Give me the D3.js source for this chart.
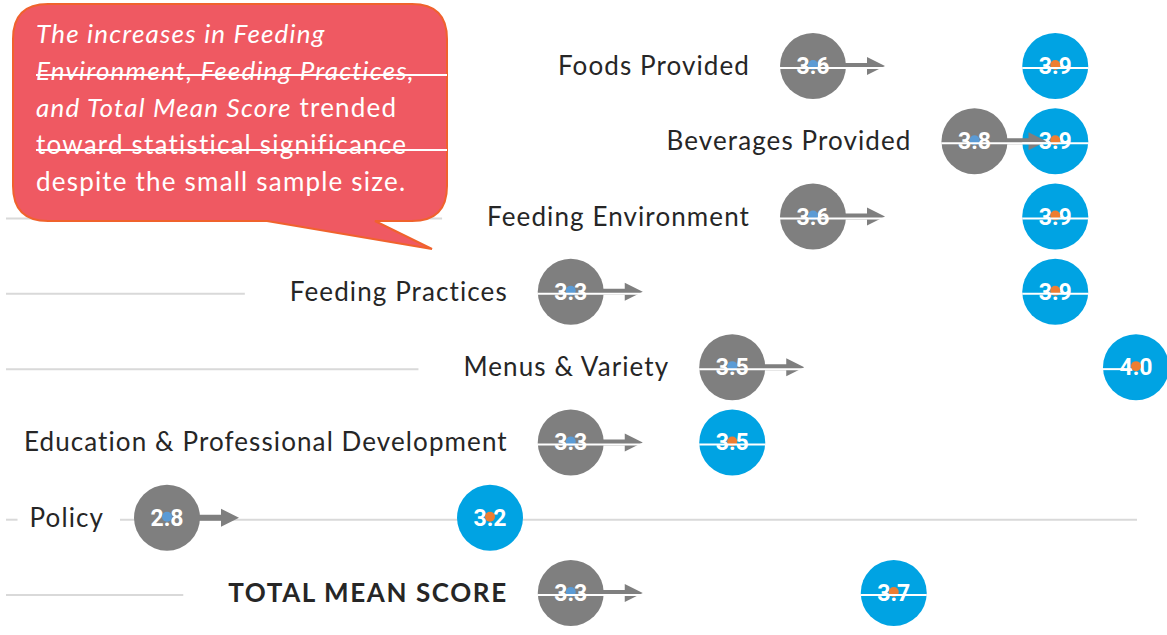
<!DOCTYPE html>
<html>
<head>
<meta charset="utf-8">
<script src="https://cdn.jsdelivr.net/npm/d3@7"></script>
<style>
  html, body { margin: 0; padding: 0; background: #fff; }
  svg { display: block; }
</style>
</head>
<body>
<svg id="chart"></svg>
<script>
// scores before / after, per area
const categories = ["Foods Provided", "Beverages Provided", "Feeding Environment", "Feeding Practices",
  "Menus & Variety", "Education & Professional Development", "Policy", "TOTAL MEAN SCORE"];
const before = [3.6, 3.8, 3.6, 3.3, 3.5, 3.3, 2.8, 3.3];
const after = [3.9, 3.9, 3.9, 3.9, 4.0, 3.5, 3.2, 3.7];

const calloutLines = [
  [["The increases in Feeding", true]],
  [["Environment, Feeding Practices,", true]],
  [["and Total Mean Score", true], [" trended", false]],
  [["toward statistical significance", false]],
  [["despite the small sample size.", false]]
];

const width = 1167, height = 635;
const r = 33, gap = 30, arrowLen = 39;
const font = "Lato, 'Open Sans', sans-serif";

const rows = categories.map((c, i) => ({ cat: c, b: before[i], a: after[i] }));

const svg = d3.select('#chart')
    .attr('width', width)
    .attr('height', height);

const x = d3.scaleLinear().domain([2.8, 4.0]).range([167, 1136]);
const y = d3.scalePoint().domain(categories).range([66, 593]);
const plotRight = 1137;
const bx0 = 13, bx1 = 447, by0 = 4, by1 = 221, cr = 35;

const gGrid = svg.append('g');
const gMarks = svg.append('g');
const gLabels = svg.append('g');

const labels = gLabels.selectAll('text')
    .data(rows)
    .enter()
    .append('text')
    .attr('x', d => x(d.b) - r - gap)
    .attr('y', d => y(d.cat) + 9)
    .attr('text-anchor', 'end')
    .attr('font-family', font)
    .attr('font-size', 26)
    .attr('letter-spacing', d => d.cat === "TOTAL MEAN SCORE" ? 1.6 : 1.1)
    .attr('font-weight', d => d.cat === "TOTAL MEAN SCORE" ? 'bold' : 'normal')
    .attr('fill', '#262626')
    .text(d => d.cat);

// light gray gridlines to the left of each label
const grid = (x1, x2, yy) => gGrid.append('line')
    .attr('x1', x1).attr('x2', x2)
    .attr('y1', yy).attr('y2', yy)
    .attr('stroke', '#d9d9d9').attr('stroke-width', 2);

labels.each(function(d) {
    const w = this.getComputedTextLength();
    const start = x(d.b) - r - gap - w;
    const yy = y(d.cat) + 2;
    if (d.cat === "Policy") {
        grid(6, start - 12, yy);
        grid(x(d.b) - r - 14, plotRight, yy);
    } else if (yy > by1 - 10) {
        const end = start - 45;
        if (end > 20) grid(6, end, yy);
    }
});

// circles
gMarks.selectAll('circle.before')
    .data(rows)
    .enter()
    .append('circle')
    .attr('class', 'before')
    .attr('cx', d => x(d.b))
    .attr('cy', d => y(d.cat))
    .attr('r', r)
    .attr('fill', '#7f7f7f');

gMarks.selectAll('circle.after')
    .data(rows)
    .enter()
    .append('circle')
    .attr('class', 'after')
    .attr('cx', d => x(d.a))
    .attr('cy', d => y(d.cat))
    .attr('r', r)
    .attr('fill', '#00a3e3');

// value texts
const valueText = (cls, acc) => gMarks.selectAll('text.' + cls)
    .data(rows)
    .enter()
    .append('text')
    .attr('class', cls)
    .attr('x', d => x(acc(d)))
    .attr('y', d => y(d.cat) + 8)
    .attr('text-anchor', 'middle')
    .attr('font-family', "Roboto, sans-serif")
    .attr('font-weight', 'bold')
    .attr('font-size', 23)
    .attr('fill', '#fff')
    .text(d => acc(d).toFixed(1));
valueText('vb', d => d.b);
valueText('va', d => d.a);

// small dots
gMarks.selectAll('circle.db')
    .data(rows)
    .enter()
    .append('circle')
    .attr('cx', d => x(d.b))
    .attr('cy', d => y(d.cat) - 1)
    .attr('r', 5)
    .attr('fill', '#5b9bd5');
gMarks.selectAll('circle.da')
    .data(rows)
    .enter()
    .append('circle')
    .attr('cx', d => x(d.a))
    .attr('cy', d => y(d.cat) - 1)
    .attr('r', 5)
    .attr('fill', '#ed7d31');

// arrows
gMarks.selectAll('path.arrow')
    .data(rows)
    .enter()
    .append('path')
    .attr('fill', '#7f7f7f')
    .attr('d', d => {
        const x0 = x(d.b) + r - 2, tip = x(d.b) + r + arrowLen, hx = tip - 18, yy = y(d.cat);
        return `M${x0},${yy - 3}L${hx},${yy - 3}L${hx},${yy - 9}L${tip},${yy}L${hx},${yy + 9}L${hx},${yy + 3}L${x0},${yy + 3}Z`;
    });

// white lines crossing the circles (clipped before the plot edge)
rows.filter(d => d.cat !== "Policy").forEach(d => {
    const yy = y(d.cat) + 2;
    const segs = [[x(d.b) - r, x(d.b) + r + arrowLen], [x(d.a) - r, x(d.a) + r]];
    segs.forEach(s => {
        gMarks.append('line')
            .attr('x1', s[0]).attr('x2', Math.min(s[1], plotRight - 12))
            .attr('y1', yy).attr('y2', yy)
            .attr('stroke', '#fff').attr('stroke-width', 2);
    });
});

// callout
const callout = svg.append('g');
callout.append('path')
    .attr('d', `M${bx0 + cr},${by0} L${bx1 - cr},${by0} Q${bx1},${by0} ${bx1},${by0 + cr}
        L${bx1},${by1 - cr} Q${bx1},${by1} ${bx1 - cr},${by1} L375,${by1} L432,249 L267,${by1}
        L${bx0 + cr},${by1} Q${bx0},${by1} ${bx0},${by1 - cr} L${bx0},${by0 + cr} Q${bx0},${by0} ${bx0 + cr},${by0} Z`)
    .attr('fill', '#ef5962')
    .attr('stroke', '#f0622d')
    .attr('stroke-width', 2);

const ct = callout.selectAll('text')
    .data(calloutLines)
    .enter()
    .append('text')
    .attr('x', 36)
    .attr('y', (d, i) => 43 + i * 37)
    .attr('font-family', font)
    .attr('font-size', 26)
    .attr('letter-spacing', 1.2)
    .attr('fill', '#fff');
ct.selectAll('tspan')
    .data(d => d)
    .enter()
    .append('tspan')
    .attr('font-style', d => d[1] ? 'italic' : 'normal')
    .text(d => d[0]);

[75, 150].forEach(yy => {
    callout.append('line')
        .attr('x1', 36).attr('x2', bx1)
        .attr('y1', yy).attr('y2', yy)
        .attr('stroke', '#fff').attr('stroke-width', 2);
});
</script>
</body>
</html>
